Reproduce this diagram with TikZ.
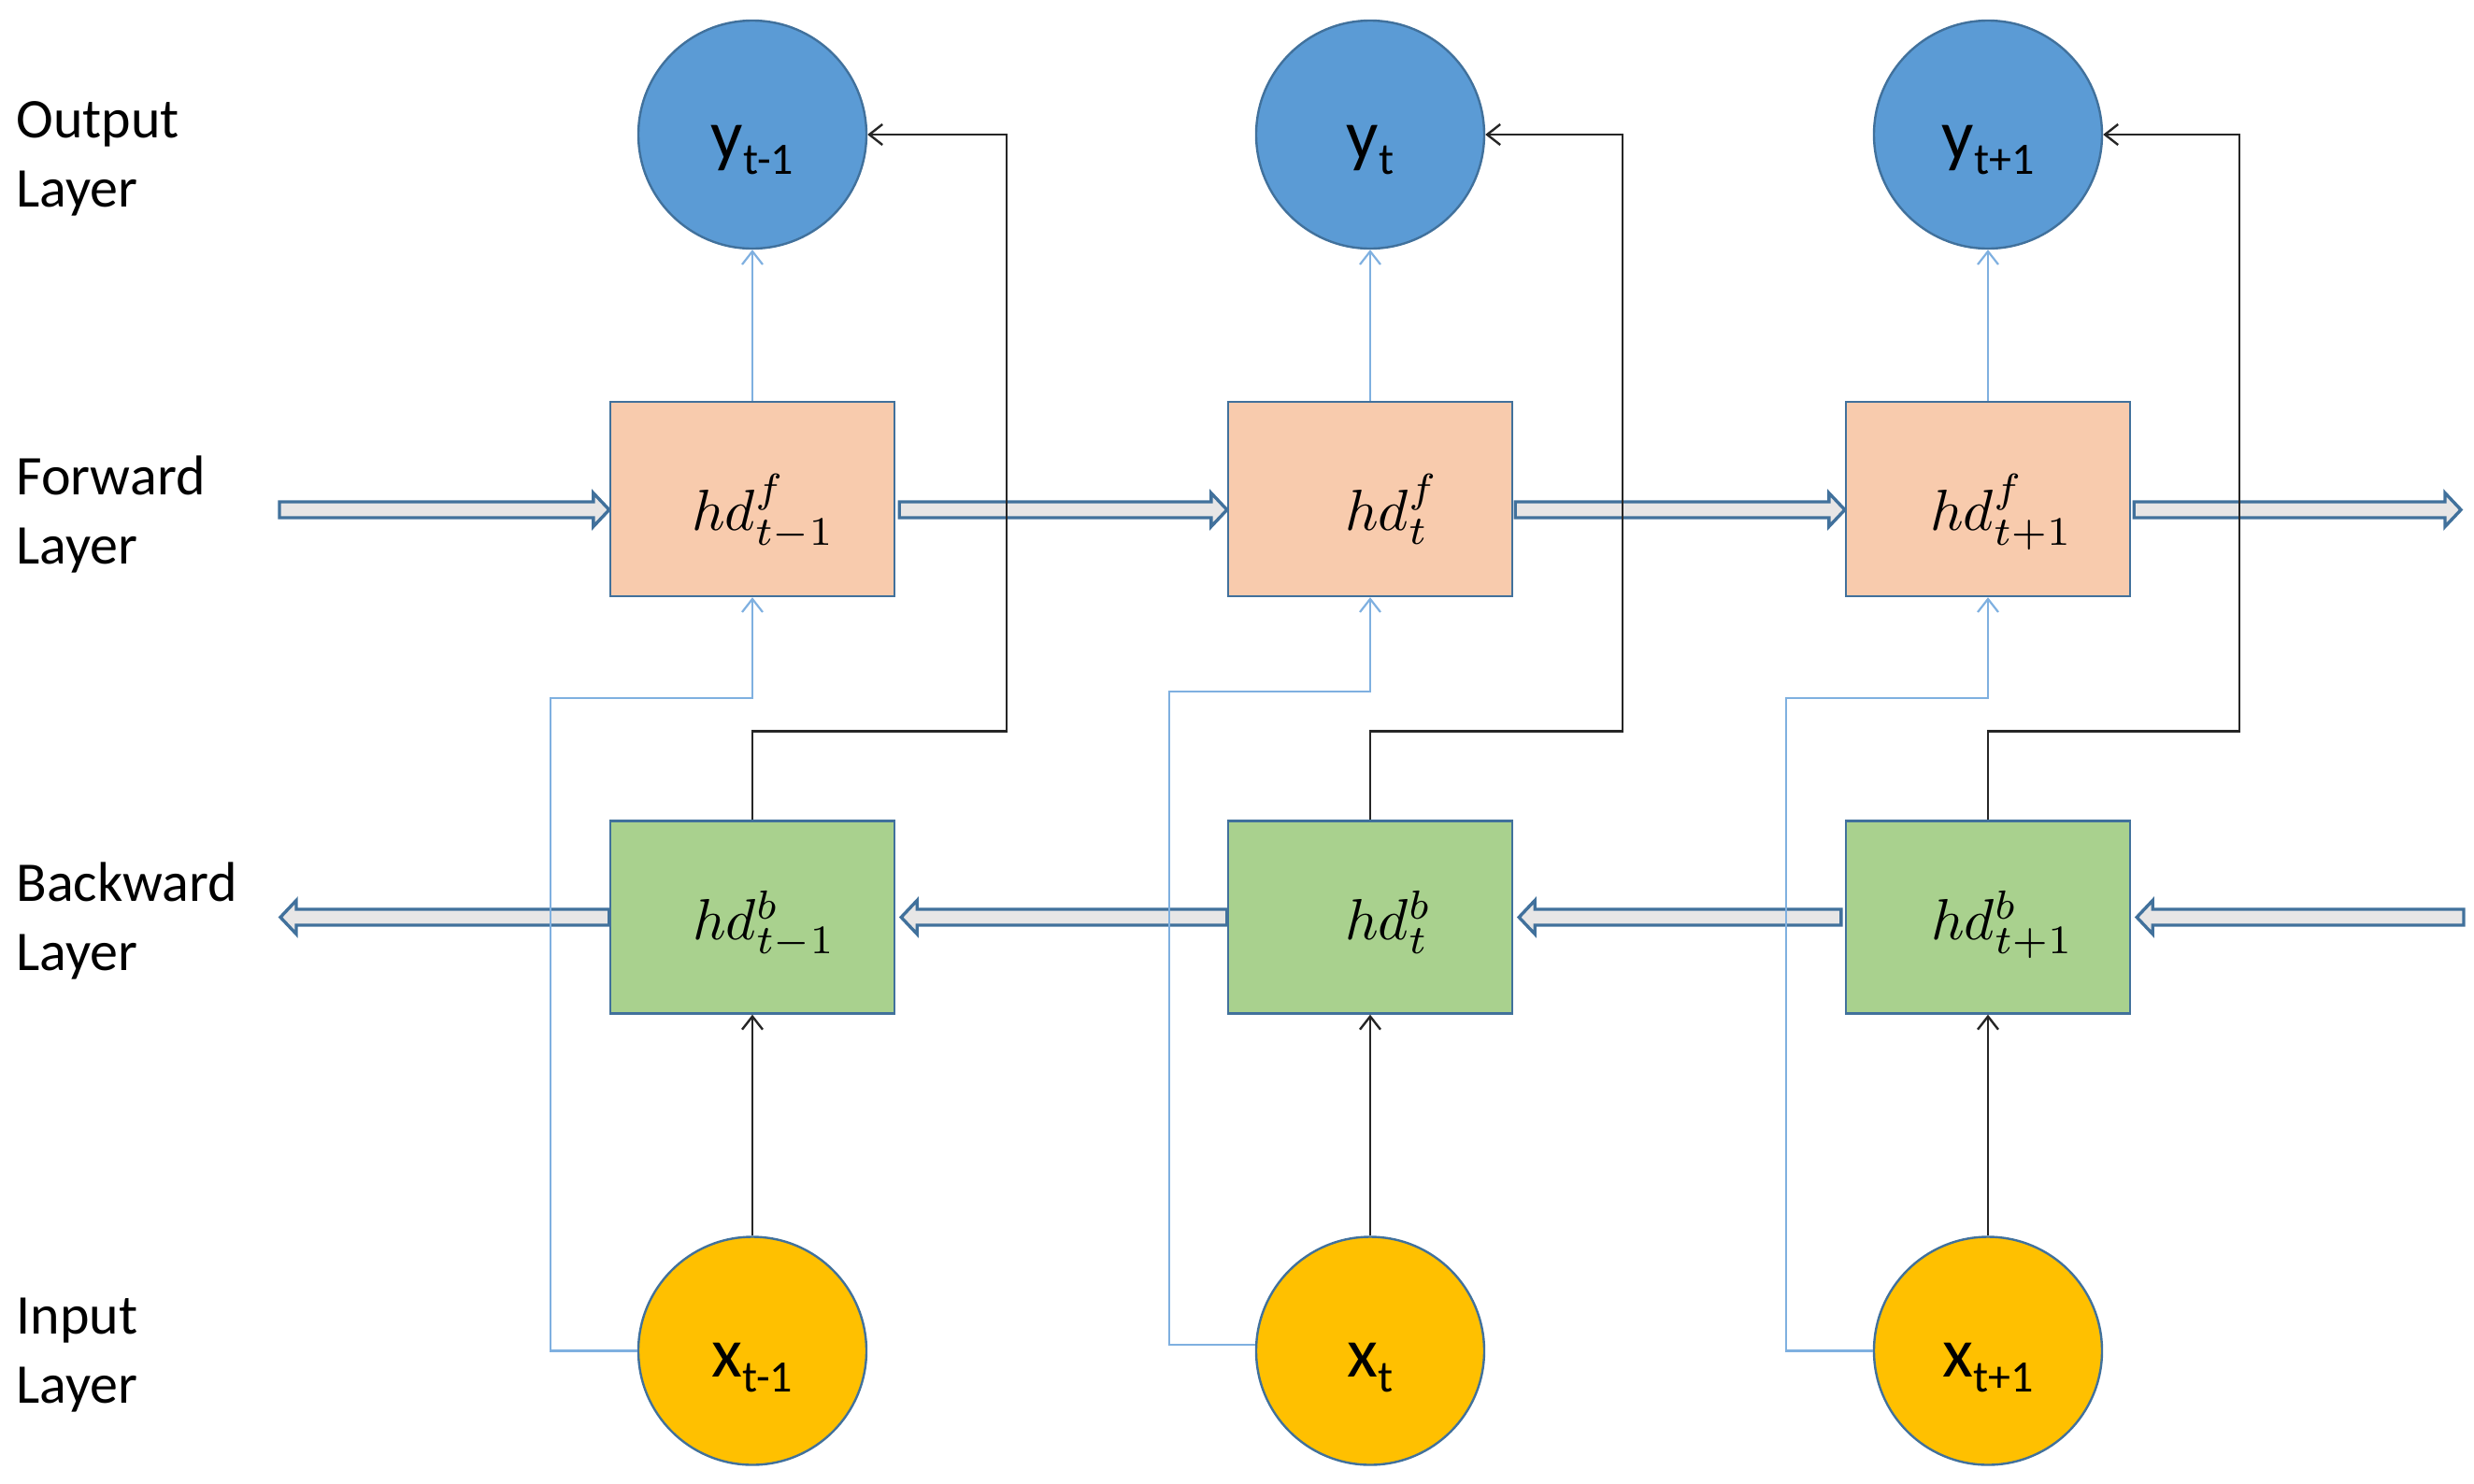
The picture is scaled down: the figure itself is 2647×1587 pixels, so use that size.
\documentclass[tikz,border=0pt]{standalone}
\usepackage{fontspec}
\usepackage{graphicx}
\setmainfont{Carlito}
\usetikzlibrary{arrows.meta,calc}
\definecolor{ycirc}{HTML}{5B9BD5}
\definecolor{edgeb}{HTML}{41719C}
\definecolor{xcirc}{HTML}{FFC000}
\definecolor{fboxc}{HTML}{F8CBAD}
\definecolor{bboxc}{HTML}{A9D18E}
\definecolor{lblue}{HTML}{7FB0E0}
\definecolor{arrfill}{HTML}{E7E6E6}
\definecolor{arredge}{HTML}{41719C}
\newcommand\blockarrow[3]{%
  \draw[blockarr] let \p1=(#1), \p2=(#2) in
   ({\x1},{\y1+4.25pt}) -- ({\x2-(#3)},{\y1+4.25pt}) -- ({\x2-(#3)},{\y1+9pt})
   -- ({\x2},{\y1}) -- ({\x2-(#3)},{\y1-9pt}) -- ({\x2-(#3)},{\y1-4.25pt})
   -- ({\x1},{\y1-4.25pt}) -- cycle;}
\newcommand\sublbl[2]{{\fontsize{38}{40}\selectfont #1}{\fontsize{24}{26}\selectfont\raisebox{-8pt}{#2}}}
\newcommand\hdl[2]{\scalebox{3.1}{$hd^{#1}_{#2}$}}
\begin{document}
\begin{tikzpicture}[x=0.5pt,y=-0.5pt,
  ycircle/.style={circle, draw=edgeb, line width=1.2pt, fill=ycirc, minimum size=122pt, inner sep=0pt},
  xcircle/.style={ycircle, fill=xcirc},
  fwdbox/.style={rectangle, draw=edgeb, line width=1.2pt, fill=fboxc, minimum width=152pt, minimum height=104pt, inner sep=0pt},
  bwdbox/.style={fwdbox, fill=bboxc, minimum height=103pt},
  laylbl/.style={anchor=base west, align=left, font=\fontsize{30}{37}\selectfont, inner sep=0pt},
  circlbl/.style={anchor=base, inner sep=0pt},
  hdlbl/.style={anchor=base west, inner sep=0pt},
  blkline/.style={draw=black!85, line width=1.2pt, -{Straight Barb[length=7pt,width=11pt]}},
  blueline/.style={draw=lblue, line width=1.1pt, -{Straight Barb[length=7pt,width=11pt]}},
  blockarr/.style={fill=arrfill, draw=arredge, line width=1.7pt},
]
\useasboundingbox (0,0) rectangle (2647,1587);

% layer labels (anchor base = baseline of the last line)
\node[laylbl] (lo) at (17,221) {Output\\Layer};
\node[laylbl] (lf) at (17,603) {Forward\\Layer};
\node[laylbl] (lb) at (17,1038) {Backward\\Layer};
\node[laylbl] (li) at (17,1501) {Input\\Layer};

% nodes
\node[ycircle] (y1) at (805,144) {};
\node[ycircle] (y2) at (1466,144) {};
\node[ycircle] (y3) at (2127,144) {};
\node[fwdbox] (f1) at (805,534) {};
\node[fwdbox] (f2) at (1466,534) {};
\node[fwdbox] (f3) at (2127,534) {};
\node[bwdbox] (b1) at (805,981.5) {};
\node[bwdbox] (b2) at (1466,981.5) {};
\node[bwdbox] (b3) at (2127,981.5) {};
\node[xcircle] (x1) at (805,1445.5) {};
\node[xcircle] (x2) at (1466,1445.5) {};
\node[xcircle] (x3) at (2127,1445.5) {};

% node texts
\node[circlbl] (ty1) at ($(y1)+(0,26.5)$) {\sublbl{y}{t-1}};
\node[circlbl] (ty2) at ($(y2)+(0,26.5)$) {\sublbl{y}{t}};
\node[circlbl] (ty3) at ($(y3)+(0,26.5)$) {\sublbl{y}{t+1}};
\node[circlbl] (tx1) at ($(x1)+(0,27.5)$) {\sublbl{x}{t-1}};
\node[circlbl] (tx2) at ($(x2)+(0,27.5)$) {\sublbl{x}{t}};
\node[circlbl] (tx3) at ($(x3)+(0,27.5)$) {\sublbl{x}{t+1}};
\node[hdlbl] (tf1) at ($(f1.west)+(88,33)$) {\hdl{f}{t-1}};
\node[hdlbl] (tf2) at ($(f2.west)+(126,33)$) {\hdl{f}{t}};
\node[hdlbl] (tf3) at ($(f3.west)+(91,33)$) {\hdl{f}{t+1}};
\node[hdlbl] (tb1) at ($(b1.west)+(89,24)$) {\hdl{b}{t-1}};
\node[hdlbl] (tb2) at ($(b2.west)+(126,24)$) {\hdl{b}{t}};
\node[hdlbl] (tb3) at ($(b3.west)+(92,24)$) {\hdl{b}{t+1}};

% block arrows
\coordinate (fin) at (299,545.5);
\coordinate (fout) at (2633,545.5);
\coordinate (bin) at (2636,981.5);
\coordinate (bout) at (300,981.5);
\blockarrow{fin}{f1.west}{8.5pt}
\blockarrow{$(f1.east|-fin)+(4,0)$}{f2.west}{8.5pt}
\blockarrow{$(f2.east|-fin)+(2,0)$}{f3.west}{8.5pt}
\blockarrow{$(f3.east|-fin)+(3,0)$}{fout}{8.5pt}
\blockarrow{bin}{$(b3.east)+(6,0)$}{-8.5pt}
\blockarrow{$(b3.west)+(-4,0)$}{$(b2.east)+(6,0)$}{-8.5pt}
\blockarrow{b2.west}{$(b1.east)+(6,0)$}{-8.5pt}
\blockarrow{b1.west}{bout}{-8.5pt}

% connectors
\coordinate (k1) at (1077,782.5);
\coordinate (k2) at (1736,782.5);
\coordinate (k3) at (2396,782.5);
\coordinate (l1) at (589,747);
\coordinate (l2) at (1251,740);
\coordinate (l3) at (1911,747);
\foreach \i in {1,2,3}{
  \draw[blkline] (b\i.north) -- (b\i.north|-k\i) -- (k\i) |- (y\i.east);
  \draw[blueline] (f\i.north) -- (y\i.south);
  \draw[blkline] (x\i.north) -- (b\i.south);
}
\draw[blueline] (x1.west) -| (l1) -| (f1.south);
\draw[blueline] (x2.177) -| (l2) -| (f2.south);
\draw[blueline] (x3.west) -| (l3) -| (f3.south);
\end{tikzpicture}
\end{document}
